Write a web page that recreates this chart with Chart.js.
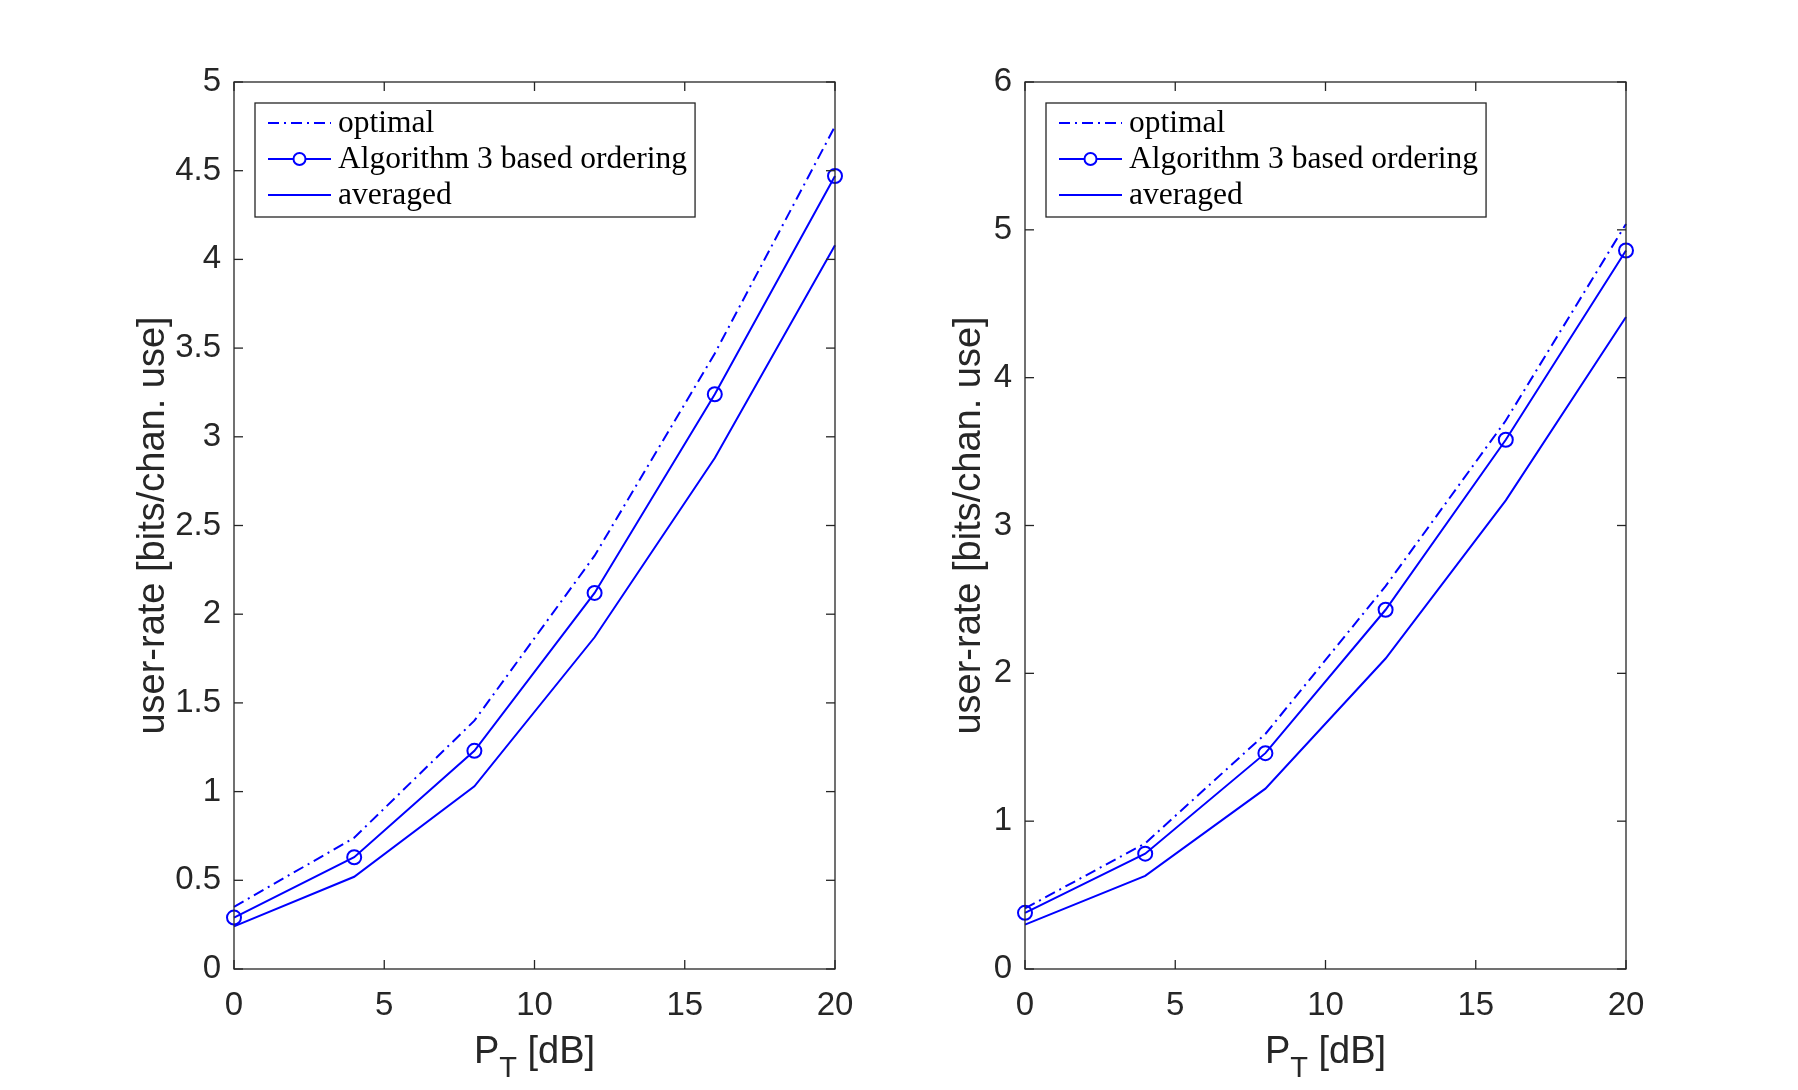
<!DOCTYPE html>
<html>
<head>
<meta charset="utf-8">
<title>user-rate vs P_T</title>
<script src="https://cdn.jsdelivr.net/npm/chart.js@4.4.1/dist/chart.umd.min.js"></script>
<style>
  html, body { margin: 0; padding: 0; background: #ffffff; }
  body { width: 1798px; height: 1090px; position: relative; overflow: hidden; }
  canvas { position: absolute; top: 0; }
  #leftChart { left: 0; }
  #rightChart { left: 899px; }
</style>
</head>
<body>
<canvas id="leftChart" width="899" height="1090"></canvas>
<canvas id="rightChart" width="899" height="1090"></canvas>
<script>
// ==================== DATA ====================
const powerDb = [0, 4, 8, 12, 16, 20];
const xTicks = [0, 5, 10, 15, 20];
const seriesLabels = ["optimal", "Algorithm 3 based ordering", "averaged"];
const yAxisTitle = "user-rate [bits/chan. use]";
const xTitleParts = ["P", "T", " [dB]"]; // P, subscript T, rest

// left subplot
const leftOptimal = [0.35, 0.74, 1.4, 2.33, 3.47, 4.75];
const leftAlgorithm = [0.29, 0.63, 1.23, 2.12, 3.24, 4.47];
const leftAveraged = [0.24, 0.52, 1.03, 1.87, 2.88, 4.08];
const leftYTicks = [0, 0.5, 1, 1.5, 2, 2.5, 3, 3.5, 4, 4.5, 5];

// right subplot
const rightOptimal = [0.41, 0.85, 1.59, 2.59, 3.71, 5.04];
const rightAlgorithm = [0.38, 0.78, 1.46, 2.43, 3.58, 4.86];
const rightAveraged = [0.3, 0.63, 1.22, 2.1, 3.17, 4.41];
const rightYTicks = [0, 1, 2, 3, 4, 5, 6];

// ==================== STYLE ====================
const AXIS_COLOR = "#262626";
const LINE_BLUE = "#0000ff";
const SANS = '"Liberation Sans", Arial, Helvetica, sans-serif';
const SERIF = '"Liberation Serif", "Times New Roman", serif';
const TICK_FONT_SIZE = 33;
const LABEL_FONT_SIZE = 38;
const LEGEND_FONT_SIZE = 31.5;
const TICK_LEN = 9;

// Helper: pair x values with y values
function toPoints(ys) {
  return powerDb.map((x, i) => ({ x: x, y: ys[i] }));
}

function buildDatasets(optimal, algorithm, averaged) {
  const common = {
    borderColor: LINE_BLUE,
    backgroundColor: "rgba(0,0,0,0)",
    borderWidth: 2,
    tension: 0,
    fill: false,
    clip: false,
  };
  return [
    { ...common, label: seriesLabels[0], data: toPoints(optimal), borderDash: [11, 5, 2, 5], pointRadius: 0 },
    { ...common, label: seriesLabels[1], data: toPoints(algorithm), pointRadius: 7, pointBorderWidth: 2, pointBorderColor: LINE_BLUE, pointBackgroundColor: "rgba(0,0,0,0)" },
    { ...common, label: seriesLabels[2], data: toPoints(averaged), pointRadius: 0 },
  ];
}

// ==================== PLUGIN: MATLAB-like axes box, ticks, xlabel, legend ====================
function drawLine(ctx, x1, y1, x2, y2) {
  ctx.beginPath();
  ctx.moveTo(x1, y1);
  ctx.lineTo(x2, y2);
  ctx.stroke();
}

function drawXTitle(chart) {
  const { ctx, chartArea } = chart;
  const mainFont = `${LABEL_FONT_SIZE}px ${SANS}`;
  const subFont = `${Math.round(LABEL_FONT_SIZE * 0.75)}px ${SANS}`;
  ctx.font = mainFont;
  const wP = ctx.measureText(xTitleParts[0]).width;
  const wRest = ctx.measureText(xTitleParts[2]).width;
  ctx.font = subFont;
  const wT = ctx.measureText(xTitleParts[1]).width;
  let x = (chartArea.left + chartArea.right) / 2 - (wP + wT + wRest) / 2;
  const y = 1063;
  ctx.fillStyle = AXIS_COLOR;
  ctx.textAlign = "left";
  ctx.textBaseline = "alphabetic";
  ctx.font = mainFont;
  ctx.fillText(xTitleParts[0], x, y);
  x += wP;
  ctx.font = subFont;
  ctx.fillText(xTitleParts[1], x, y + 14);
  x += wT;
  ctx.font = mainFont;
  ctx.fillText(xTitleParts[2], x, y);
}

function drawLegend(chart) {
  const { ctx, chartArea } = chart;
  const boxLeft = chartArea.left + 21;
  const boxTop = chartArea.top + 21;
  const rowGap = 36;
  const sampleStart = 13;
  const sampleEnd = 76;
  const textStart = 83;

  ctx.font = `${LEGEND_FONT_SIZE}px ${SERIF}`;
  const textWidth = Math.max(...chart.data.datasets.map((d) => ctx.measureText(d.label).width));
  const boxWidth = textStart + textWidth + 8;
  const boxHeight = 114;

  ctx.fillStyle = "#ffffff";
  ctx.fillRect(boxLeft, boxTop, boxWidth, boxHeight);
  ctx.strokeStyle = AXIS_COLOR;
  ctx.lineWidth = 1.3;
  ctx.strokeRect(boxLeft, boxTop, boxWidth, boxHeight);

  chart.data.datasets.forEach((ds, i) => {
    const rowY = boxTop + 20 + i * rowGap;
    ctx.save();
    ctx.strokeStyle = ds.borderColor;
    ctx.lineWidth = ds.borderWidth;
    ctx.setLineDash(ds.borderDash || []);
    drawLine(ctx, boxLeft + sampleStart, rowY, boxLeft + sampleEnd, rowY);
    ctx.setLineDash([]);
    if (ds.pointRadius > 0) {
      ctx.lineWidth = ds.pointBorderWidth;
      ctx.fillStyle = "#ffffff";
      ctx.beginPath();
      ctx.arc(boxLeft + (sampleStart + sampleEnd) / 2, rowY, ds.pointRadius - 1, 0, Math.PI * 2);
      ctx.fill();
      ctx.stroke();
    }
    ctx.restore();
    ctx.fillStyle = "#000000";
    ctx.textAlign = "left";
    ctx.textBaseline = "middle";
    ctx.fillText(ds.label, boxLeft + textStart, rowY + 1);
  });
}

const matlabAxesPlugin = {
  id: "matlabAxes",
  afterDraw(chart) {
    const { ctx, chartArea, scales } = chart;
    const { left, right, top, bottom } = chartArea;
    ctx.save();
    ctx.strokeStyle = AXIS_COLOR;
    ctx.lineWidth = 1.3;
    ctx.strokeRect(left, top, right - left, bottom - top);

    // inward ticks on all four sides
    scales.x.ticks.forEach((t) => {
      const px = scales.x.getPixelForValue(t.value);
      drawLine(ctx, px, bottom, px, bottom - TICK_LEN);
      drawLine(ctx, px, top, px, top + TICK_LEN);
    });
    scales.y.ticks.forEach((t) => {
      const py = scales.y.getPixelForValue(t.value);
      drawLine(ctx, left, py, left + TICK_LEN, py);
      drawLine(ctx, right, py, right - TICK_LEN, py);
    });

    drawXTitle(chart);
    drawLegend(chart);
    ctx.restore();
  },
};

// ==================== CHARTS ====================
function createChart(canvasId, layout, datasets, yTicks) {
  const ctx = document.getElementById(canvasId);
  return new Chart(ctx, {
    type: "line",
    data: { datasets: datasets },
    options: {
      responsive: false,
      animation: false,
      devicePixelRatio: 1,
      layout: {
        padding: { left: 0, right: layout.rightPad, top: 82, bottom: 0 },
      },
      plugins: {
        legend: { display: false },
        tooltip: { enabled: false },
      },
      scales: {
        x: {
          type: "linear",
          min: xTicks[0],
          max: xTicks[xTicks.length - 1],
          afterBuildTicks: (scale) => {
            scale.ticks = xTicks.map((v) => ({ value: v }));
          },
          afterFit: (scale) => {
            scale.height = 121;
          },
          grid: { display: false, drawTicks: false },
          border: { display: false },
          ticks: {
            color: AXIS_COLOR,
            padding: 17,
            maxRotation: 0,
            font: { family: SANS, size: TICK_FONT_SIZE },
            callback: (v) => String(v),
          },
        },
        y: {
          type: "linear",
          min: yTicks[0],
          max: yTicks[yTicks.length - 1],
          afterBuildTicks: (scale) => {
            scale.ticks = yTicks.map((v) => ({ value: v }));
          },
          afterFit: (scale) => {
            scale.width = layout.yAxisWidth;
          },
          grid: { display: false, drawTicks: false },
          border: { display: false },
          ticks: {
            color: AXIS_COLOR,
            padding: 13,
            font: { family: SANS, size: TICK_FONT_SIZE },
            callback: (v) => String(v),
          },
          title: {
            display: true,
            text: yAxisTitle,
            color: AXIS_COLOR,
            font: { family: SANS, size: LABEL_FONT_SIZE },
            padding: { top: layout.yTitlePad, bottom: 0 },
          },
        },
      },
    },
    plugins: [matlabAxesPlugin],
  });
}

document.addEventListener("DOMContentLoaded", function () {
  createChart(
    "leftChart",
    { yAxisWidth: 234, rightPad: 64, yTitlePad: 131 },
    buildDatasets(leftOptimal, leftAlgorithm, leftAveraged),
    leftYTicks
  );
  createChart(
    "rightChart",
    { yAxisWidth: 126, rightPad: 172, yTitlePad: 48 },
    buildDatasets(rightOptimal, rightAlgorithm, rightAveraged),
    rightYTicks
  );
});
</script>
</body>
</html>
